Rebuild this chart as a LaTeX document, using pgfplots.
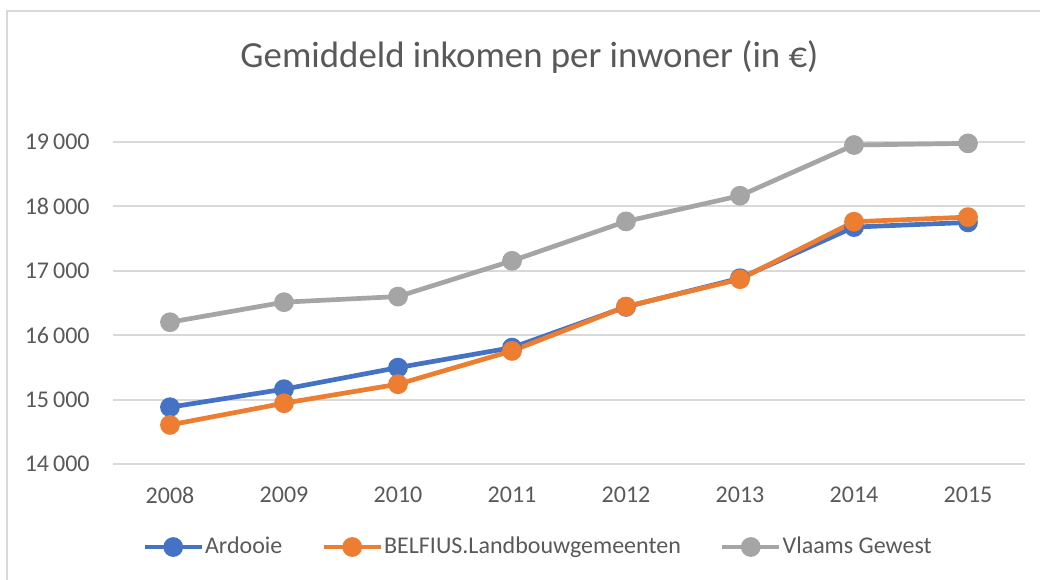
\documentclass[border=0pt]{standalone}
\usepackage{fontspec}
\setmainfont{Carlito}
\usepackage{pgfplots}
\pgfplotsset{compat=1.18}
\definecolor{cblue}{HTML}{4472C4}
\definecolor{corange}{HTML}{ED7D31}
\definecolor{cgray}{HTML}{A5A5A5}
\definecolor{cgrid}{HTML}{D9D9D9}
\definecolor{ctext}{HTML}{595959}
\begin{document}
\begin{tikzpicture}
\useasboundingbox (0pt,0pt) rectangle (520pt,289.5pt);
\draw[cgrid, line width=0.9pt] (3.5pt,-2pt) -- (3.5pt,284pt) -- (522pt,284pt);
\node[font=\fontsize{18.4}{21}\selectfont, text=ctext] at (264.75pt,261pt) {Gemiddeld inkomen per inwoner (in €)};
\coordinate (AX) at (56.5pt,57.5pt);
\begin{axis}[at={(AX)}, anchor=south west, scale only axis,
  width=456pt, height=161pt,
  xmin=-0.5, xmax=7.5, ymin=14000, ymax=19000,
  xtick={0,1,2,3,4,5,6,7},
  xticklabels={2008,2009,2010,2011,2012,2013,2014,2015},
  ytick={14000,15000,16000,17000,18000,19000},
  yticklabels={14\,000,15\,000,16\,000,17\,000,18\,000,19\,000},
  scaled y ticks=false,
  axis line style={draw=none},
  major tick length=0pt,
  ymajorgrids, grid style={cgrid, line width=1pt},
  tick label style={font=\fontsize{12}{14}\selectfont, text=ctext, inner sep=0pt},
  yticklabel style={anchor=east, xshift=-11.5pt},
  xticklabel style={anchor=north, yshift=-11.5pt},
  /pgf/number format/assume math mode=true,
  clip=false,
  legend columns=3,
  legend cell align=left,
  legend style={at={(0.0318,-0.2578)}, anchor=west, draw=none, fill=none,
    font=\fontsize{12}{14}\selectfont, text=ctext, inner sep=0pt,
    nodes={inner sep=0.5pt},
    /tikz/every even column/.append style={column sep=19pt}},
  legend image code/.code={\draw[mark repeat=2,mark phase=2,#1] plot coordinates {(0pt,0pt) (14.25pt,0pt) (28.5pt,0pt)};},
]
\addplot[color=cblue, line width=2.35pt, mark=*, mark size=3.75pt, mark options={fill=cblue, draw=none}]
  coordinates {(0,14882) (1,15162) (2,15497) (3,15807) (4,16440) (5,16885) (6,17679) (7,17751)};
\addlegendentry{Ardooie}
\addplot[color=corange, line width=2.35pt, mark=*, mark size=3.75pt, mark options={fill=corange, draw=none}]
  coordinates {(0,14607) (1,14944) (2,15239) (3,15756) (4,16445) (5,16870) (6,17762) (7,17834)};
\addlegendentry{BELFIUS.Landbouwgemeenten}
\addplot[color=cgray, line width=2.35pt, mark=*, mark size=3.75pt, mark options={fill=cgray, draw=none}]
  coordinates {(0,16202) (1,16513) (2,16600) (3,17155) (4,17767) (5,18166) (6,18953) (7,18979)};
\addlegendentry{Vlaams Gewest}
\end{axis}
\end{tikzpicture}
\end{document}
